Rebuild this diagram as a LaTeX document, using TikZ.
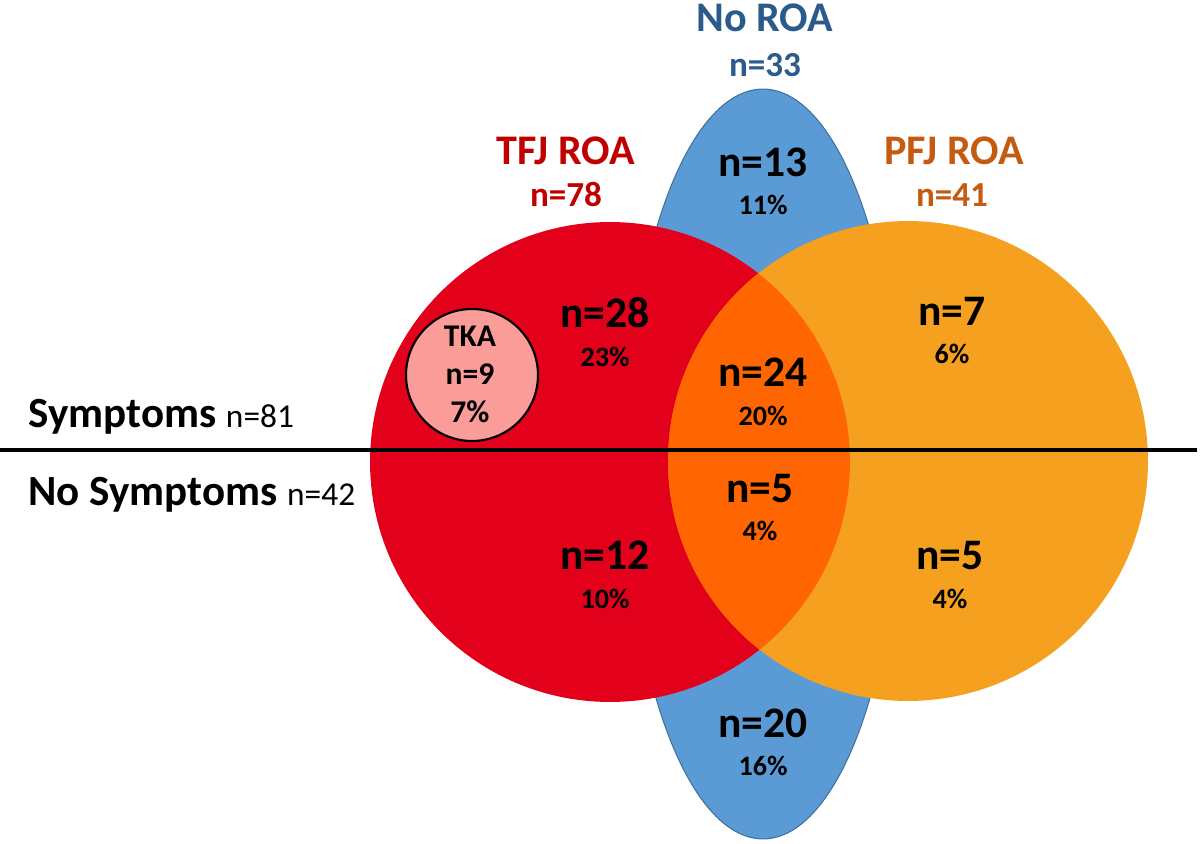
\documentclass[tikz,border=0pt]{standalone}
\usepackage{fontspec}
\setmainfont{Carlito}
\usepackage{tikz}
\usetikzlibrary{positioning,shapes.geometric}

\definecolor{tfjred}{HTML}{E3001B}
\definecolor{pfjorange}{HTML}{F5A01F}
\definecolor{bothorange}{HTML}{FF6500}
\definecolor{noroablue}{HTML}{5B9BD5}
\definecolor{noroaedge}{HTML}{41719C}
\definecolor{tkapink}{HTML}{FA9C98}
\definecolor{tfjtext}{HTML}{C00000}
\definecolor{pfjtext}{HTML}{C55A11}
\definecolor{noroatext}{HTML}{2B5A8C}

\begin{document}
\begin{tikzpicture}[x=0.02cm, y=-0.02cm,
    count/.style = {anchor=base, inner sep=0pt, font=\fontsize{24.8pt}{28pt}\selectfont\bfseries},
    pct/.style = {anchor=base, inner sep=0pt, font=\fontsize{16pt}{19pt}\selectfont\bfseries},
    title/.style = {anchor=base, inner sep=0pt, font=\fontsize{24pt}{28pt}\selectfont\bfseries},
    total/.style = {anchor=base, inner sep=0pt, font=\fontsize{20pt}{24pt}\selectfont\bfseries},
    tka/.style = {anchor=base, inner sep=0pt, font=\fontsize{18pt}{21pt}\selectfont\bfseries},
    side/.style = {anchor=base west, inner sep=0pt, font=\fontsize{24.5pt}{28pt}\selectfont\bfseries}]
    \useasboundingbox (0,0) rectangle (1200,844);

    % sets
    \coordinate (tfj) at (610,462);
    \coordinate (pfj) at (908,461);
    \node[ellipse, draw=noroaedge, line width=0.6pt, fill=noroablue, inner sep=0pt,
          minimum width=5.48cm, minimum height=15cm] (noroa) at (763,464) {};
    \fill[tfjred] (tfj) circle (4.8cm);
    \fill[pfjorange] (pfj) circle (4.8cm);
    \begin{scope}
        \clip (tfj) circle (4.8cm);
        \fill[bothorange] (pfj) circle (4.8cm);
    \end{scope}
    \node[circle, draw, line width=1.2pt, fill=tkapink, inner sep=0pt,
          minimum size=2.64cm] (tkaset) at (472,375) {};

    % symptoms line
    \coordinate (lineL) at (0,450);
    \coordinate (lineR) at (1197,450);
    \draw[line width=2.3pt] (lineL) -- (lineR);

    % titles
    \node[title, text=noroatext] (noroaT) at (765,32) {No ROA};
    \node[total, text=noroatext] (noroaN) at (765,77) {n=33};
    \node[title, text=tfjtext] (tfjT) at (566,165) {TFJ ROA};
    \node[total, text=tfjtext] (tfjN) at (566,207) {n=78};
    \node[title, text=pfjtext] (pfjT) at (954,165) {PFJ ROA};
    \node[total, text=pfjtext] (pfjN) at (952,207) {n=41};

    \node[side] (sym) at (28,427) {Symptoms \mdseries\fontsize{19pt}{22pt}\selectfont n=81};
    \node[side] (nosym) at (28,505) {No Symptoms \mdseries\fontsize{19pt}{22pt}\selectfont n=42};

    % region counts
    \node[count] (c13) at (763,177) {n=13};
    \node[pct] (p13) at (763,215) {11\%};
    \node[count] (c28) at (605,328) {n=28};
    \node[pct] (p28) at (605,367) {23\%};
    \node[count] (c24) at (763,387) {n=24};
    \node[pct] (p24) at (763,425) {20\%};
    \node[count] (c7) at (952,326) {n=7};
    \node[pct] (p7) at (952,364) {6\%};
    \node[tka] (tkaT) at (470,347) {TKA};
    \node[tka] (tkaN) at (470,385) {n=9};
    \node[tka] (tkaP) at (470,422) {7\%};
    \node[count] (c5m) at (760,502) {n=5};
    \node[pct] (p5m) at (760,540) {4\%};
    \node[count] (c12) at (605,569) {n=12};
    \node[pct] (p12) at (605,608) {10\%};
    \node[count] (c5r) at (950,569) {n=5};
    \node[pct] (p5r) at (950,608) {4\%};
    \node[count] (c20) at (763,737) {n=20};
    \node[pct] (p20) at (763,775) {16\%};
\end{tikzpicture}
\end{document}
